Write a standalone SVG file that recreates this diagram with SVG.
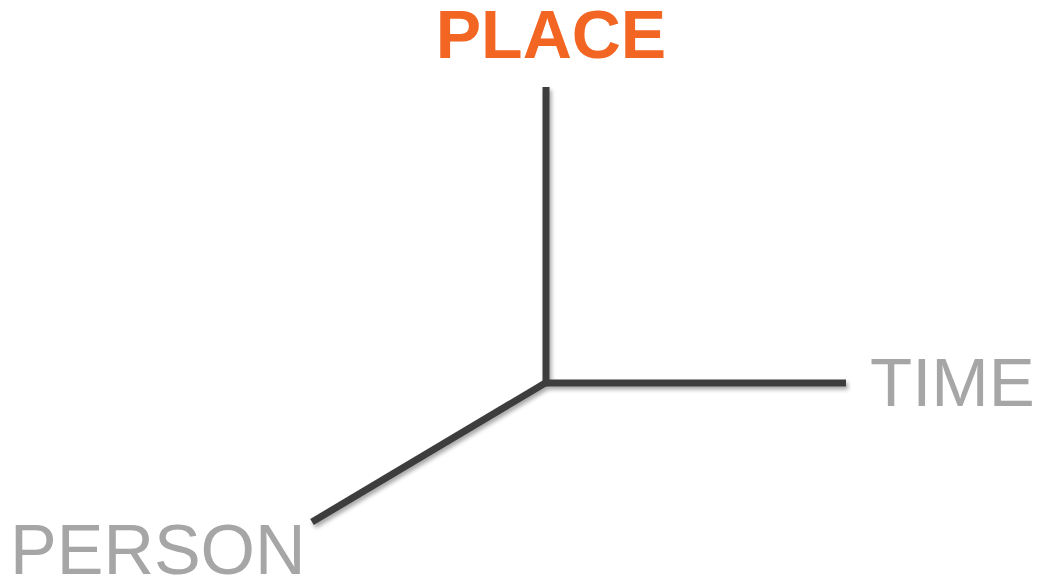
<svg xmlns="http://www.w3.org/2000/svg" width="1051" height="578" viewBox="0 0 1051 578">
<defs>
<style>
.axis{stroke:#3d3d3d;stroke-width:7;fill:none;stroke-linecap:butt;stroke-linejoin:miter}
.lbl{font-family:"Liberation Sans",Arial,sans-serif;fill:#a6a6a6}
.main{font-family:"Liberation Sans",Arial,sans-serif;font-weight:bold;fill:#f26522}
</style>
<filter id="sh" x="-10%" y="-10%" width="130%" height="130%">
<feGaussianBlur in="SourceAlpha" stdDeviation="2"/>
<feOffset dx="2" dy="3"/>
<feComponentTransfer><feFuncA type="linear" slope="0.35"/></feComponentTransfer>
<feMerge><feMergeNode/><feMergeNode in="SourceGraphic"/></feMerge>
</filter>
</defs>
<rect width="1051" height="578" fill="#ffffff"/>
<g id="connectors" filter="url(#sh)">
<path class="axis" d="M546,87 V383 H846"/>
<path class="axis" d="M547,382 L312,522"/>
</g>
<g id="place"><text class="main" x="551" y="58" font-size="68" text-anchor="middle">PLACE</text></g>
<g id="time"><text class="lbl" x="870" y="406" font-size="69">TIME</text></g>
<g id="person"><text class="lbl" x="10" y="574" font-size="70">PERSON</text></g>
</svg>
